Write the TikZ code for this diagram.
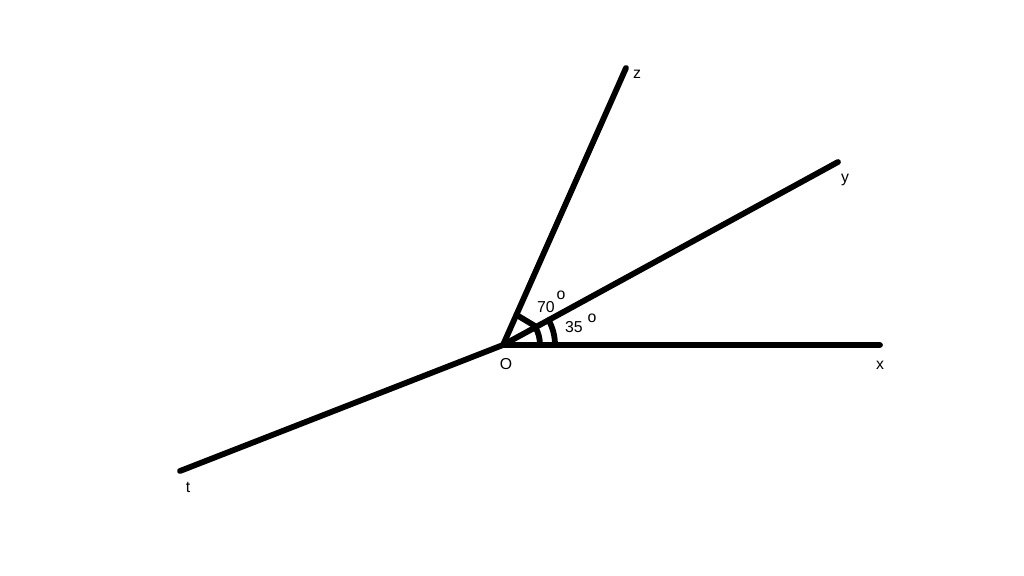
\documentclass[tikz,border=0pt]{standalone}
\usepackage{fontspec}
\setmainfont{Liberation Sans}
\begin{document}
\begin{tikzpicture}[x=0.02cm,y=0.02cm,line width=3.3pt,line cap=round]
    \useasboundingbox (-503,-230) rectangle (521,345);
    \def\ry{28.6}
    \def\rz{66}
    %% rays
    \coordinate (O) at (0,0);
    \coordinate (X) at (377,0);
    \coordinate (Y) at (335,183);
    \coordinate (Z) at (123,277);
    \coordinate (T) at (-323,-126);
    \draw (T) -- (O) -- (X);
    \draw (O) -- (Y);
    \draw (O) -- (Z);
    %% angle marks
    \draw (\rz:33) -- (\ry:38);
    \draw (37,0) arc (0:\ry:37);
    \draw (52,0) arc (0:\ry:52);
    %% labels
    \foreach \x/\y/\t/\n in {134/271/z/lz,342/165/y/ly,377/-20/x/lx,3/-19/O/lo,-315/-142/t/lt,43/38/70/la,58/50/o/da,71/18/35/lb,89/27/o/db}
        \node[font=\fontsize{9}{11}\selectfont] (\n) at (\x,\y) {\t};
\end{tikzpicture}
\end{document}
